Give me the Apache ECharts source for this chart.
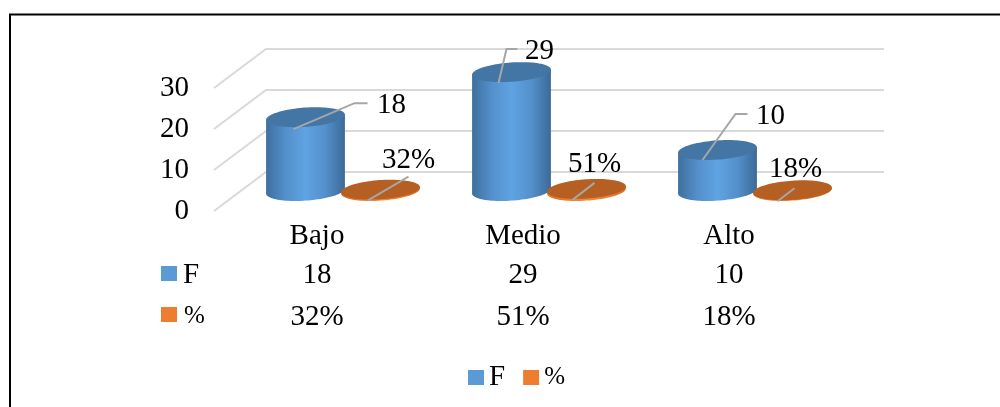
<!DOCTYPE html>
<html>
<head>
<meta charset="utf-8">
<style>html,body{margin:0;padding:0;background:#fff}#c{width:1000px;height:407px}</style>
<script src="https://cdn.jsdelivr.net/npm/echarts@6/dist/echarts.min.js"></script>
</head>
<body>
<div id="c"></div>
<script>
const categories = ['Bajo', 'Medio', 'Alto'];
const seriesF = [18, 29, 10];
const seriesPct = [0.32, 0.51, 0.18];
const labelsF = ['18', '29', '10'];
const labelsPct = ['32%', '51%', '18%'];
const yTicks = [0, 10, 20, 30];
const seriesNames = ['F', '%'];

const FONT = '"Liberation Serif","Times New Roman",serif';
const FS = 29;
const FS_KEY = 25;
const TXT = '#000000';
const BLUE = '#5B9BD5', ORANGE = '#ED7D31';
// layout of the pseudo-3D view
const DEPTH_X = 52, DEPTH_Y = -39;
const PLANE_Y = -20;
const LEAD_DY = 2;
const TEXT_DY = 1.5;
const A = 39.5, B = 9.6, PHI = -4 * Math.PI / 180;
// leader line elbow offsets and label anchors per mark, relative to the top-ellipse centre
const leaderF = [
  {from:[-12,10], elbow:[49,-16], end:[62,-16], text:[72,-15]},
  {from:[-13,9],  elbow:[-5,-25], end:[6,-25],  text:[14,-24]},
  {from:[-15,8],  elbow:[18,-38], end:[30,-38], text:[39,-37]}
];
const leaderP = [
  {from:[-13,9],  elbow:[28,-15], end:[28,-15], text:[2,-33]},
  {from:[-14,9],  elbow:[8,-8],   end:[8,-8],   text:[-18,-28]},
  {from:[-15,9],  elbow:[2,-4],   end:[2,-4],   text:[-23,-24]}
];

function pt(cx, cy, t) {
  return [cx + A * Math.cos(t) * Math.cos(PHI) - B * Math.sin(t) * Math.sin(PHI),
          cy + A * Math.cos(t) * Math.sin(PHI) + B * Math.sin(t) * Math.cos(PHI)];
}
function ellipse(cx, cy) {
  const out = [];
  for (let i = 0; i < 96; i++) out.push(pt(cx, cy, i / 96 * 2 * Math.PI));
  return out;
}
function body(cx, topY, baseY) {
  const t0 = Math.atan(-(B / A) * Math.tan(PHI));
  const out = [];
  for (let i = 0; i <= 48; i++) out.push(pt(cx, baseY, t0 + i / 48 * Math.PI));
  out.push(pt(cx, topY, t0 + Math.PI));
  out.push(pt(cx, topY, t0));
  return out;
}
function cylinderRender(dx, stops, topColor, leaders, texts) {
  return function (params, api) {
    const i = api.value(0);
    const c = api.coord([i, api.value(1)]);
    const c0 = api.coord([i, 0]);
    const cx = c[0] + dx, topY = c[1] + PLANE_Y, baseY = c0[1] + PLANE_Y;
    const ly = topY + LEAD_DY;
    const grad = new echarts.graphic.LinearGradient(0, 0, 1, 0, stops);
    const L = leaders[i];
    const children = [
      {type:'polygon', shape:{points:body(cx, topY, baseY)}, style:{fill:grad}},
      {type:'polygon', shape:{points:ellipse(cx, topY)}, style:{fill:topColor}},
      {type:'polyline', shape:{points:[[cx+L.from[0],ly+L.from[1]],[cx+L.elbow[0],ly+L.elbow[1]],[cx+L.end[0],ly+L.end[1]]]},
       style:{stroke:'#A6A6A6',lineWidth:2,fill:null}},
      {type:'text', x:cx+L.text[0]-0.5, y:ly+L.text[1]+TEXT_DY,
       style:{text:texts[i],fill:TXT,font:FS+'px '+FONT,verticalAlign:'middle',align:'left'}}
    ];
    return {type:'group', children};
  };
}
function wallRender(params, api) {
  const v = api.value(0);
  const p = api.coord([0, v]);
  const right = params.coordSys.x + params.coordSys.width + DEPTH_X;
  const x0 = params.coordSys.x;
  return {type:'group', children:[
    {type:'polyline', shape:{points:[[x0,p[1]],[x0+DEPTH_X,p[1]+DEPTH_Y],[right,p[1]+DEPTH_Y]]},
     style:{stroke:'#D9D9D9',lineWidth:2,fill:null}}
  ]};
}
const plainCat = (data, offset, margin) => ({
  type:'category', data, position:'bottom', offset,
  axisLine:{show:false}, axisTick:{show:false}, splitLine:{show:false},
  axisLabel:{show:true, interval:0, margin, color:TXT, fontFamily:FONT, fontSize:FS}
});
const GX = 214, GW = 618, GTOP = 88, GBOT = 211;
const chart = echarts.init(document.getElementById('c'), null, {renderer:'canvas'});
function swatch(x, y, fill) { return {type:'rect', shape:{x, y, width:16, height:15}, style:{fill}, silent:true}; }
function label(x, y, text, size) { return {type:'text', x, y, style:{text, fill:TXT, font:size+'px '+FONT, verticalAlign:'middle'}, silent:true}; }
chart.setOption({
  animation:false,
  backgroundColor:'#ffffff',
  grid:{left:GX, width:GW, top:GTOP, height:GBOT-GTOP, containLabel:false},
  xAxis:[
    plainCat(categories, 0, 11),
    plainCat(labelsF, 39, 11),
    plainCat(labelsPct, 81, 11)
  ],
  yAxis:{type:'value', min:0, max:30, interval:10, splitLine:{show:false},
    axisLine:{show:false}, axisTick:{show:false},
    axisLabel:{margin:25, color:TXT, fontFamily:FONT, fontSize:FS, padding:[6,0,0,0]}},
  legend:{show:true, left:463, top:358, itemWidth:16, itemHeight:15, itemGap:18, icon:'rect',
    data:[{name:seriesNames[0]},{name:seriesNames[1],textStyle:{fontSize:FS_KEY}}], selectedMode:false,
    textStyle:{color:TXT, fontFamily:FONT, fontSize:FS}},
  graphic:{elements:[
    {type:'rect', shape:{x:10, y:14.5, width:1200, height:600}, style:{fill:'none', stroke:'#000', lineWidth:2}, silent:true, z:100},
    swatch(161, 266, BLUE), label(183, 275, seriesNames[0], FS),
    swatch(161, 307, ORANGE), label(184, 316, seriesNames[1], FS_KEY)
  ]},
  series:[
    {type:'custom', name:'walls', coordinateSystem:'cartesian2d', xAxisIndex:0, z:1, silent:true,
     renderItem:wallRender, encode:{y:0}, data:yTicks.map(v=>[v]), dimensions:['v']},
    {type:'custom', name:seriesNames[0], coordinateSystem:'cartesian2d', xAxisIndex:0, z:2, silent:true,
     itemStyle:{color:BLUE},
     renderItem:cylinderRender(-11.5,[{offset:0,color:'#3E6F9E'},{offset:0.25,color:'#5490CB'},{offset:0.5,color:'#5FA3E3'},{offset:0.75,color:'#5490CB'},{offset:1,color:'#3C6A97'}],'#4476A5',leaderF,labelsF),
     data:seriesF.map((v,i)=>[i,v])},
    {type:'custom', name:seriesNames[1], coordinateSystem:'cartesian2d', xAxisIndex:0, z:3, silent:true,
     itemStyle:{color:ORANGE},
     renderItem:cylinderRender(63.5,[{offset:0,color:'#D97126'},{offset:0.5,color:'#F5893F'},{offset:1,color:'#D97126'}],'#B55F22',leaderP,labelsPct),
     data:seriesPct.map((v,i)=>[i,v])}
  ]
});
</script>
</body>
</html>
